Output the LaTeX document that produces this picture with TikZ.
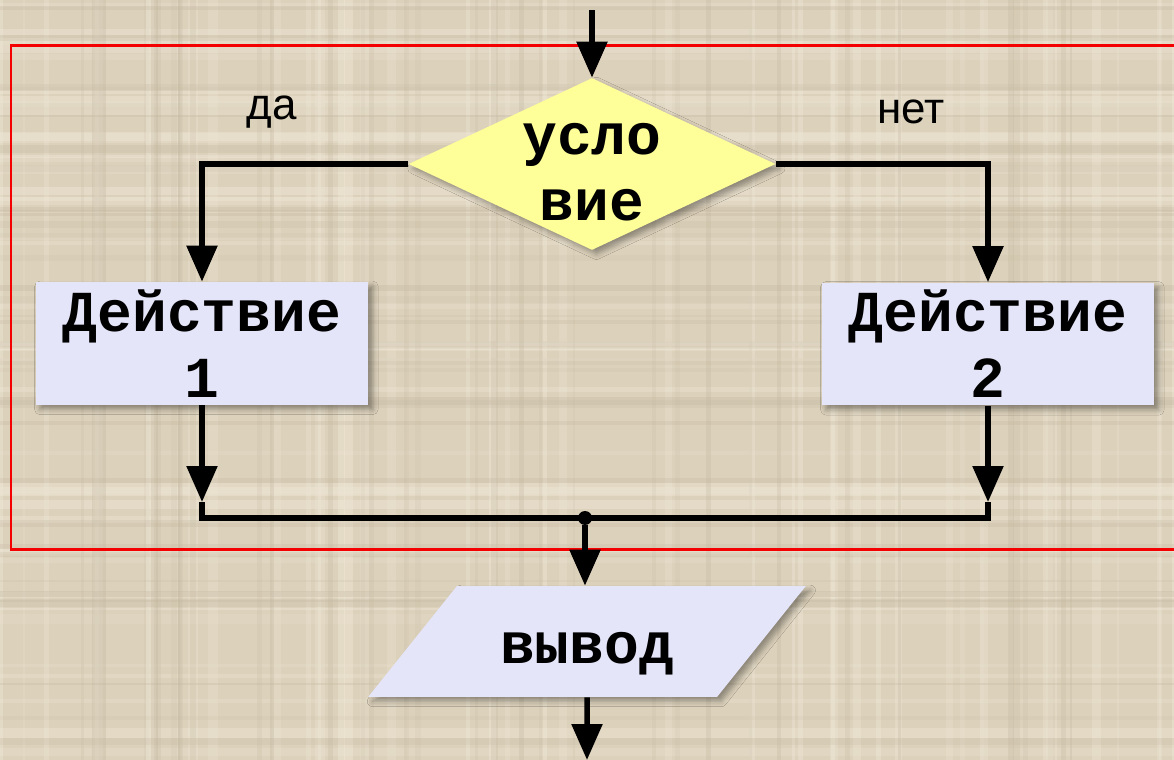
\documentclass[tikz,border=0pt]{standalone}
\usepackage{fontspec}
\setmainfont{Liberation Sans}
\newfontfamily\monob{Liberation Mono}
\usetikzlibrary{shapes.geometric, arrows.meta, shadows.blur}

\definecolor{bg}{RGB}{220,209,187}
\definecolor{bgl}{RGB}{240,232,216}
\definecolor{bgd}{RGB}{192,180,156}
\definecolor{condfill}{RGB}{255,255,153}
\definecolor{boxfill}{RGB}{229,229,250}
\definecolor{framered}{RGB}{245,0,0}

\tikzset{
  flowline/.style={line width=0.11cm, black},
  arr/.style={flowline, -{Triangle[length=0.72cm,width=0.6cm]}},
  shade/.style={blur shadow={shadow xshift=2.5pt, shadow yshift=-2.5pt, shadow opacity=35, shadow blur radius=3pt}},
  codefont/.style={font=\monob\bfseries\fontsize{33}{37.5}\selectfont},
  actbox/.style={rectangle, fill=boxfill, minimum width=6.66cm, minimum height=2.46cm, inner sep=0pt, codefont, align=center, shade},
  condshape/.style={diamond, fill=condfill, minimum width=7.34cm, minimum height=3.44cm, inner sep=0pt, aspect=2.13, shade},
  iobox/.style={trapezium, trapezium left angle=51.6, trapezium right angle=128.4, trapezium stretches=true, fill=boxfill, minimum width=8.76cm, minimum height=2.22cm, inner sep=0pt, codefont, text height=1.2cm, text depth=0.3cm, shade},
  lbl/.style={font=\fontsize{25}{30}\selectfont, inner sep=0pt},
  junction/.style={circle, fill=black, minimum size=0.28cm, inner sep=0pt},
}

\begin{document}
\begin{tikzpicture}[x=0.02cm, y=-0.02cm]
\useasboundingbox (0,0) rectangle (1174,760);
% background texture
\fill[bg] (0,0) rectangle (1174,760);
\pgfmathsetseed{7}
\foreach \i in {1,...,45}{
  \pgfmathsetmacro\yy{rnd*760}\pgfmathsetmacro\ww{2+rnd*8}\pgfmathsetmacro\oo{0.15+0.3*rnd}
  \fill[bgl, opacity=\oo] (0,\yy) rectangle (1174,\yy+\ww);
}
\foreach \i in {1,...,45}{
  \pgfmathsetmacro\xx{rnd*1174}\pgfmathsetmacro\ww{2+rnd*8}\pgfmathsetmacro\oo{0.15+0.3*rnd}
  \fill[bgl, opacity=\oo] (\xx,0) rectangle (\xx+\ww,760);
}
\foreach \i in {1,...,35}{
  \pgfmathsetmacro\yy{rnd*760}\pgfmathsetmacro\ww{2+rnd*6}\pgfmathsetmacro\oo{0.1+0.2*rnd}
  \fill[bgd, opacity=\oo] (0,\yy) rectangle (1174,\yy+\ww);
}
\foreach \i in {1,...,35}{
  \pgfmathsetmacro\xx{rnd*1174}\pgfmathsetmacro\ww{2+rnd*6}\pgfmathsetmacro\oo{0.1+0.2*rnd}
  \fill[bgd, opacity=\oo] (\xx,0) rectangle (\xx+\ww,760);
}

% red frame
\draw[framered, line width=0.06cm] (11,46) rectangle (1180,549);

% nodes
\coordinate (top) at (592,10);
\node[condshape, label={[codefont, align=center, yshift=-0.17cm]center:усло\\вие}] (cond) at (592,164) {};
\node[actbox] (box1) at (202,343.5) {Действие\\1};
\node[actbox] (box2) at (988,344) {Действие\\2};
\node[lbl] (yes) at (272,112) {да};
\node[lbl] (no) at (911,112) {нет};
\coordinate (a1) at (202,502);
\coordinate (a2) at (988,502);
\coordinate (j1) at (202,518);
\coordinate (j2) at (988,518);
\node[iobox] (io) at (587,641.5) {вывод};
\coordinate (bot) at (587,760);

% connectors
\draw[arr] (top) -- (cond.north);
\draw[arr] (cond.west) -| (box1.north);
\draw[arr] (cond.east) -| (box2.north);
\draw[arr] (box1.south) -- (a1);
\draw[arr] (box2.south) -- (a2);
\draw[flowline] (a1) -- (j1) -- (j2) -- (a2);
\node[junction] (dot) at (585,518) {};
\draw[arr] (dot) -- (dot |- io.north);
\draw[arr] (io.south) -- (bot);
\end{tikzpicture}
\end{document}
